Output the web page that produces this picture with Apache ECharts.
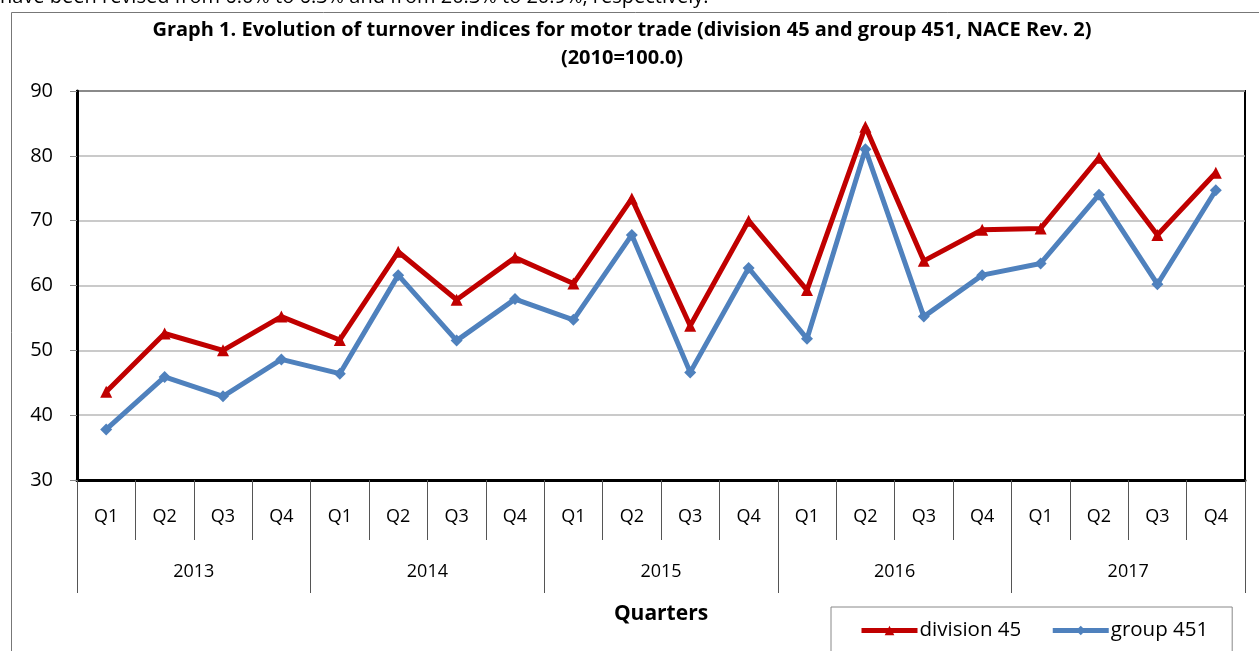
<!DOCTYPE html>
<html>
<head>
<meta charset="utf-8">
<script src="https://cdn.jsdelivr.net/npm/echarts@6/dist/echarts.min.js"></script>
<style>html,body{margin:0;padding:0;background:#fff}#c{width:1259px;height:651px}</style>
</head>
<body>
<div id="c"></div>
<script>
const quarters = ['Q1','Q2','Q3','Q4','Q1','Q2','Q3','Q4','Q1','Q2','Q3','Q4','Q1','Q2','Q3','Q4','Q1','Q2','Q3','Q4'];
const years = ['2013','2014','2015','2016','2017'];
const division45 = [43.6,52.6,50.0,55.2,51.6,65.2,57.8,64.3,60.3,73.4,53.8,70.0,59.3,84.5,63.8,68.6,68.8,79.7,67.8,77.4];
const group451 = [37.8,45.9,42.9,48.6,46.4,61.6,51.5,57.9,54.7,67.8,46.6,62.7,51.8,81.0,55.2,61.6,63.4,74.0,60.2,74.7];
const yTicks = {min:30, max:90, interval:10};

const FONT = '"Open Sans", Lato, sans-serif';
const chart = echarts.init(document.getElementById('c'), null, {renderer:'canvas'});
chart.setOption({
  animation:false,
  backgroundColor:'#fff',
  textStyle:{fontFamily:FONT},
  graphic:[
    {type:'text', left:0, top:-13, style:{text:'have been revised from 6.0% to 6.3% and from 20.3% to 20.9%, respectively.', font:'20px '+FONT, fill:'#000'}},
    {type:'rect', shape:{x:11.5, y:12.5, width:1270, height:700}, style:{fill:'none', stroke:'#777', lineWidth:1}, silent:true, z:-1},
    {type:'text', x:622, y:30, style:{text:'Graph 1. Evolution of turnover indices for motor trade (division 45 and group 451, NACE Rev. 2)', font:'bold 20px '+FONT, fill:'#000', textAlign:'center', textVerticalAlign:'middle'}},
    {type:'text', x:622, y:58, style:{text:'(2010=100.0)', font:'bold 20px '+FONT, fill:'#000', textAlign:'center', textVerticalAlign:'middle'}},
    {type:'text', x:661, y:614, style:{text:'Quarters', font:'bold 21px '+FONT, fill:'#000', textAlign:'center', textVerticalAlign:'middle'}}
  ],
  grid:{left:77, right:14, top:91, bottom:171, show:true, borderColor:'#000', borderWidth:2, backgroundColor:'transparent'},
  legend:{
    left:831, top:607,
    data:['division 45','group 451'],
    itemWidth:56, itemHeight:12, itemGap:29,
    padding:[13,24,30,28],
    borderColor:'#888', borderWidth:1,
    lineStyle:{width:5},
    textStyle:{fontSize:20.5, color:'#000', fontFamily:FONT, padding:[0,0,0,-3]}
  },
  xAxis:[
    {type:'category', data:quarters, position:'bottom', boundaryGap:true,
     axisLine:{show:true, lineStyle:{color:'#000', width:3}},
     axisTick:{show:true, interval:0, length:60, lineStyle:{color:'#555', width:1}},
     axisLabel:{interval:0, margin:28, fontSize:18, color:'#000', fontFamily:FONT},
     splitLine:{show:false}},
    {type:'category', data:years, position:'bottom', boundaryGap:true,
     axisLine:{show:false},
     axisTick:{show:true, interval:0, length:113, lineStyle:{color:'#555', width:1}},
     axisLabel:{interval:0, margin:83, fontSize:18, color:'#000', fontFamily:FONT},
     splitLine:{show:false}}
  ],
  yAxis:{type:'value', min:yTicks.min, max:yTicks.max, interval:yTicks.interval,
    axisLine:{show:true, lineStyle:{color:'#000', width:3}},
    axisTick:{show:true, length:7, lineStyle:{color:'#888'}},
    axisLabel:{fontSize:20, color:'#000', margin:24, fontFamily:FONT},
    splitLine:{show:true, lineStyle:{color:'#b8b8b8', width:1.5}}},
  series:[
    {name:'division 45', type:'line', data:division45, xAxisIndex:0,
     symbol:'triangle', symbolSize:12, showAllSymbol:true,
     lineStyle:{color:'#c00000', width:5}, itemStyle:{color:'#c00000'}},
    {name:'group 451', type:'line', data:group451, xAxisIndex:0,
     symbol:'diamond', symbolSize:12, showAllSymbol:true,
     lineStyle:{color:'#4f81bd', width:5}, itemStyle:{color:'#4f81bd'}}
  ]
});
</script>
</body>
</html>
